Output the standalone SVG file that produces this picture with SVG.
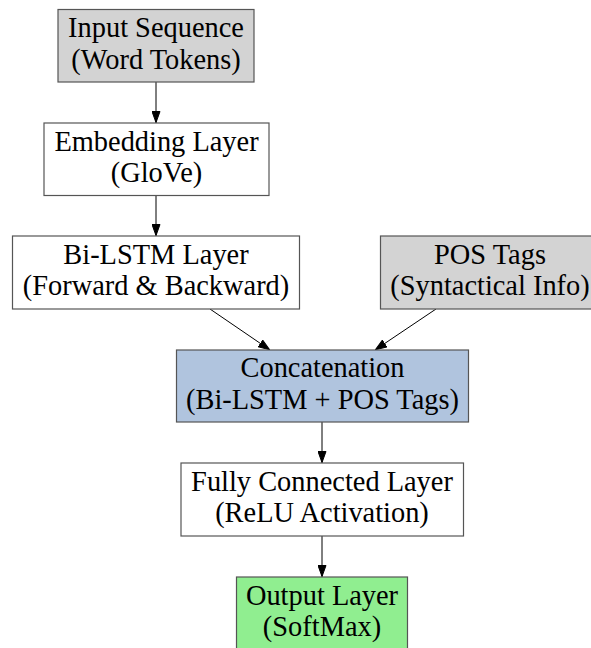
<svg xmlns="http://www.w3.org/2000/svg" width="591" height="648" viewBox="0 0 591 648">
<style>
.box{stroke:#555;stroke-width:1.2}
.t{font-family:"Liberation Serif","Times New Roman",serif;font-size:28.4px;fill:#000;text-anchor:middle}
.e{stroke:#000;stroke-width:1;fill:none;marker-end:url(#ah)}
</style>
<defs>
<marker id="ah" markerWidth="12" markerHeight="9" refX="12" refY="4.5" orient="auto" markerUnits="userSpaceOnUse">
<path d="M0.5,0.5 L11.5,4.5 L0.5,8.5 Z" fill="#000" stroke="#000" stroke-width="1"/>
</marker>
</defs>
<rect width="591" height="648" fill="#fff"/>
<g id="connectors">
<line class="e" x1="156" y1="82" x2="156" y2="123"/>
<line class="e" x1="156" y1="195.5" x2="156" y2="236"/>
<line class="e" x1="210" y1="309" x2="270" y2="350"/>
<line class="e" x1="436" y1="309" x2="375" y2="350"/>
<line class="e" x1="322" y1="422" x2="322" y2="463"/>
<line class="e" x1="322" y1="536" x2="322" y2="577"/>
</g>
<g id="input">
<rect class="box" x="58" y="9.5" width="196" height="72.5" fill="#d3d3d3"/>
<text class="t" x="156" y="37">Input Sequence</text>
<text class="t" x="156" y="68.5">(Word Tokens)</text>
</g>
<g id="embedding">
<rect class="box" x="44" y="123" width="225" height="72.5" fill="#fff"/>
<text class="t" x="156.5" y="150.5">Embedding Layer</text>
<text class="t" x="156.5" y="182">(GloVe)</text>
</g>
<g id="bilstm">
<rect class="box" x="12.5" y="236" width="287" height="73" fill="#fff"/>
<text class="t" x="156" y="263.5">Bi-LSTM Layer</text>
<text class="t" x="156" y="295">(Forward &amp; Backward)</text>
</g>
<g id="pos">
<rect class="box" x="380.5" y="236" width="219" height="73" fill="#d3d3d3"/>
<text class="t" x="490" y="263.5">POS Tags</text>
<text class="t" x="490" y="295">(Syntactical Info)</text>
</g>
<g id="concat">
<rect class="box" x="176.5" y="350" width="292" height="72" fill="#b0c4de"/>
<text class="t" x="322.5" y="377">Concatenation</text>
<text class="t" x="322.5" y="408.5">(Bi-LSTM + POS Tags)</text>
</g>
<g id="fc">
<rect class="box" x="181" y="463" width="282.5" height="73" fill="#fff"/>
<text class="t" x="322" y="490.5">Fully Connected Layer</text>
<text class="t" x="322" y="522">(ReLU Activation)</text>
</g>
<g id="output">
<rect class="box" x="236.5" y="577" width="171" height="73" fill="#90ee90"/>
<text class="t" x="322" y="604.5">Output Layer</text>
<text class="t" x="322" y="636">(SoftMax)</text>
</g>
</svg>
